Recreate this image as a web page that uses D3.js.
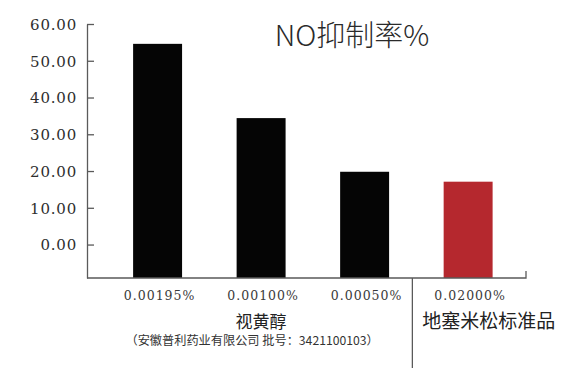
<!DOCTYPE html>
<html>
<head>
<meta charset="utf-8">
<script src="https://cdn.jsdelivr.net/npm/d3@7"></script>
<style>
    body { margin: 0; background: #fff; }
    svg { display: block; }
</style>
</head>
<body>
<svg id="chart"></svg>
<script>
// chart data
let doses = ["0.00195%", "0.00100%", "0.00050%", "0.02000%"];
let inhibition = [54.6, 34.4, 19.8, 17.1];
let groups = ["视黄醇", "视黄醇", "视黄醇", "地塞米松标准品"];
let yTicks = [0, 10, 20, 30, 40, 50, 60];
let title = "NO抑制率%";
let groupNote = "（安徽普利药业有限公司 批号：3421100103）";

let width = 580;
let height = 375;
let padding = { top: 24, right: 54, bottom: 97, left: 87 };

let svg = d3.select("#chart")
            .attr("width", width)
            .attr("height", height);

let data = doses.map((d, i) => ({ dose: d, value: inhibition[i], group: groups[i] }));

// y scale reaches a little below zero, bars stand on the axis line
let yScale = d3.scaleLinear()
                .domain([-9.1, 60])
                .range([height - padding.bottom, padding.top]);

let xScale = d3.scaleBand()
                .domain(doses)
                .range([padding.left, width - padding.right])
                .paddingInner(0.527)
                .paddingOuter(0.384)
                .align(0.58);

let axisColor = "#5a5a5a";
let baseY = yScale(yScale.domain()[0]);

// bars
svg.selectAll(".bar")
    .data(data)
    .enter()
    .append("rect")
        .classed("bar", true)
        .attr("x", d => xScale(d.dose))
        .attr("width", xScale.bandwidth())
        .attr("y", d => yScale(d.value))
        .attr("height", d => baseY - yScale(d.value))
        .attr("fill", d => d.group === "地塞米松标准品" ? "#b5282e" : "#050505");

// y axis, ticks pointing inward
let yAxis = d3.axisLeft(yScale)
                .tickValues(yTicks)
                .tickFormat(d3.format(".2f"))
                .tickSizeInner(-7)
                .tickSizeOuter(0)
                .tickPadding(10);

let yG = svg.append("g")
    .attr("transform", `translate(${padding.left},0)`)
    .call(yAxis);

yG.select(".domain")
    .attr("stroke", axisColor)
    .attr("stroke-width", 1.3);
yG.selectAll(".tick line")
    .attr("stroke", axisColor)
    .attr("stroke-width", 1.3);
yG.selectAll(".tick text")
    .attr("dy", "0.36em")
    .style("font-family", "'DejaVu Serif', serif")
    .style("font-size", "15px")
    .style("letter-spacing", "0.8px")
    .attr("fill", "#2e2e2e");

// x axis line with end tick
let xEnd = width - padding.right;
svg.append("path")
    .attr("d", `M${padding.left},${baseY}H${xEnd}V${baseY - 7}`)
    .attr("fill", "none")
    .attr("stroke", axisColor)
    .attr("stroke-width", 1.3);

// separator between the two groups
let sepX = (xScale(doses[2]) + xScale.bandwidth() + xScale(doses[3])) / 2 - 4;
svg.append("line")
    .attr("x1", sepX)
    .attr("x2", sepX)
    .attr("y1", baseY)
    .attr("y2", baseY + 90)
    .attr("stroke", axisColor)
    .attr("stroke-width", 1.3);

// dose labels
svg.selectAll(".dose-label")
    .data(data)
    .enter()
    .append("text")
        .classed("dose-label", true)
        .attr("x", d => xScale(d.dose) + xScale.bandwidth() / 2 + 2)
        .attr("y", baseY + 22)
        .style("text-anchor", "middle")
        .style("font-family", "'DejaVu Serif', serif")
        .style("font-size", "12.5px")
        .style("letter-spacing", "1px")
        .attr("fill", "#3a3a3a")
        .text(d => d.dose);

// group labels
let firstGroup = data.filter(d => d.group === "视黄醇");
let groupCenter = (xScale(firstGroup[0].dose) + xScale(firstGroup[firstGroup.length - 1].dose) + xScale.bandwidth()) / 2;

svg.append("text")
    .attr("x", groupCenter)
    .attr("y", baseY + 50)
    .style("text-anchor", "middle")
    .style("font-family", "'Noto Sans CJK SC', sans-serif")
    .style("font-size", "17px")
    .attr("fill", "#222")
    .text(groups[0]);

svg.append("text")
    .attr("x", groupCenter - 9)
    .attr("y", baseY + 67)
    .style("text-anchor", "middle")
    .style("font-family", "'Noto Sans CJK SC', sans-serif")
    .style("font-size", "12.2px")
    .attr("fill", "#333")
    .text(groupNote);

svg.append("text")
    .attr("x", sepX + 10)
    .attr("y", baseY + 50)
    .style("text-anchor", "start")
    .style("font-family", "'Noto Sans CJK SC', sans-serif")
    .style("font-size", "19px")
    .attr("fill", "#222")
    .text(groups[3]);

// chart title
svg.append("text")
    .attr("x", 352)
    .attr("y", 46)
    .style("text-anchor", "middle")
    .style("font-family", "'Noto Sans CJK SC', sans-serif")
    .style("font-size", "29px")
    .style("font-weight", 300)
    .attr("fill", "#2a2a2a")
    .text(title);
</script>
</body>
</html>
